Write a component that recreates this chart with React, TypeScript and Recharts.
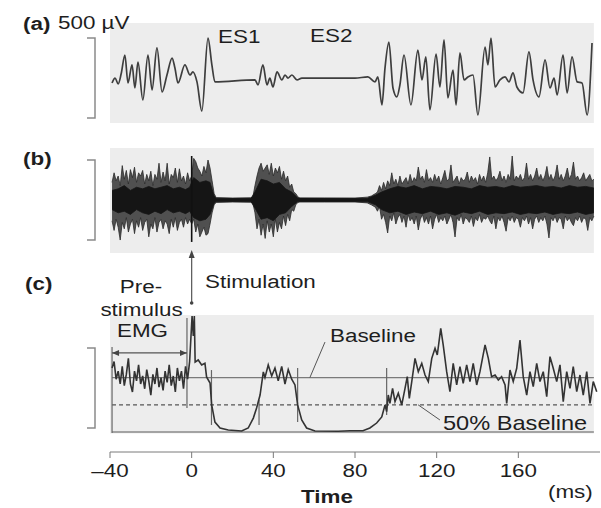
import React from 'react'
import { LineChart, Line, ComposedChart, Area, XAxis, YAxis, ReferenceArea, ReferenceLine } from 'recharts'

const FONT = '"Liberation Sans", Arial, sans-serif'
const INK = '#1e1e1e'
const BG = '#ededed'
const STRETCH = 1.18

// time axis, ms
const T_DOMAIN: [number, number] = [-40, 200]
const T_TICKS = [-40, 0, 40, 80, 120, 160]
const BG_END = 197

// (a) one raw sweep  [ms, µV]
const sweepA: [number, number][] = [
  [-39, -19], [-37.5, 12], [-36, -25], [-34.5, 40], [-32.7, 156], [-31.2, -19], [-29.2, 94], [-27.8, -50],
  [-26.3, 112], [-23.9, -125], [-21.4, 156], [-19.4, -62], [-17, 200], [-14.5, -75], [-12.1, 31], [-9.6, 137],
  [-8.2, 75], [-6.7, -19], [-3.3, 94], [-0.8, 31], [0.6, 50], [2.6, -12], [5, -194], [8, 262], [9.9, 94],
  [11.4, -12], [31, 0], [32.5, -31], [34.9, 94], [36.9, -31], [38.3, 12], [39.8, -44], [41.8, 50], [44.2, 0],
  [45.7, 31], [47.2, 12], [49.1, 31], [51.6, 0], [54, 12], [80, 12], [86.3, 19], [89.8, -12], [91.2, 19],
  [93.2, -156], [94.7, 75], [96.6, 237], [98.6, -50], [100.5, -106], [102, -31], [104, 156], [107.4, -156],
  [110.8, 187], [112.8, 0], [114.7, 144], [116.7, -187], [119.7, 162], [121.6, -44], [123.6, 250], [125.5, -112],
  [128, 62], [129.5, -156], [131.4, 169], [133.4, 0], [135.3, 19], [137.8, 31], [140.2, -219], [143.7, 206],
  [145.1, 94], [146.6, 262], [148.6, -44], [151, 0], [153.5, 19], [155.4, -12], [157.4, 44], [159.3, -44],
  [162.3, -81], [165.2, 175], [167.2, 0], [170.1, -106], [173.1, 125], [175.5, -50], [177.5, 12], [179, -94],
  [181.9, 156], [183.9, -81], [186.3, 144], [188.8, -12], [191.2, -19], [193.7, -219], [196.1, 231],
]

// (b) superimposed sweeps, envelope  [ms, low µV, high µV]
const envelopeB: [number, number, number][] = [
  [-39, -130, 110], [-38, -190, 170], [-37, -120, 120], [-36, -170, 150], [-35, -250, 90],
  [-34, -140, 215], [-33, -180, 130], [-32, -110, 185], [-31, -200, 100], [-30, -150, 190],
  [-29, -120, 140], [-28, -210, 205], [-27, -130, 110], [-26, -170, 170], [-25, -110, 150],
  [-24, -190, 185], [-23, -140, 100], [-22, -120, 160], [-21, -230, 120], [-20, -150, 180],
  [-19, -180, 90], [-18, -110, 160], [-17, -200, 130], [-16, -140, 230], [-15, -120, 110],
  [-14, -180, 175], [-13, -130, 120], [-12, -150, 230], [-11, -210, 100], [-10, -120, 160],
  [-9, -170, 140], [-8, -110, 200], [-7, -190, 110], [-6, -140, 195], [-5, -120, 120],
  [-4, -170, 150], [-3, -110, 100], [-2, -150, 170], [-1, -120, 120],
  [0, -150, 150], [1, -120, 260], [2, -200, 240], [3, -150, 200], [4, -230, 180], [5, -200, 150],
  [6, -170, 210], [7, -220, 170], [8, -210, 250], [9, -150, 200], [10, -80, 120], [11, -30, 40],
  [12, -15, 15], [20, -12, 12], [29, -14, 14],
  [30, -20, 20], [31, -80, 90], [32, -180, 150], [33, -120, 200], [34, -220, 230], [35, -150, 180],
  [36, -240, 200], [37, -130, 220], [38, -200, 160], [39, -150, 230], [40, -230, 150], [41, -120, 200],
  [42, -200, 170], [43, -140, 210], [44, -180, 130], [45, -100, 180], [46, -160, 120], [47, -90, 150],
  [48, -130, 80], [49, -60, 100], [50, -70, 50], [51, -30, 40], [52, -15, 20], [53, -12, 12],
  [65, -12, 12], [80, -12, 12], [86, -18, 18], [88, -30, 25], [90, -45, 40], [91, -70, 50], [92, -40, 90],
  [93, -120, 60], [94, -90, 110], [95, -140, 70], [96, -206, 120], [97, -100, 90], [98, -130, 170],
  [99, -80, 100], [100, -150, 130], [101, -110, 90], [102, -90, 150], [103, -140, 100], [104, -100, 120],
  [105, -170, 140], [106, -90, 100], [107, -130, 160], [108, -110, 110], [109, -150, 140], [110, -100, 120],
  [111, -187, 206], [112, -120, 130], [113, -90, 150], [114, -140, 110], [115, -110, 190], [116, -150, 120],
  [117, -100, 140], [118, -180, 110], [119, -120, 160], [120, -90, 120], [121, -140, 150], [122, -110, 100],
  [123, -130, 140], [124, -100, 185], [125, -150, 120], [126, -120, 130], [127, -90, 219], [128, -140, 110],
  [129, -231, 130], [130, -110, 150], [131, -130, 100], [132, -90, 140], [133, -150, 120], [134, -110, 130],
  [135, -120, 175], [136, -140, 110], [137, -100, 150], [138, -165, 120], [139, -110, 140], [140, -130, 100],
  [141, -90, 160], [142, -140, 120], [143, -110, 150], [144, -120, 110], [145, -100, 170], [146, -130, 269],
  [147, -150, 130], [148, -100, 150], [149, -180, 120], [150, -110, 140], [151, -130, 180], [152, -100, 120],
  [153, -140, 150], [154, -195, 110], [155, -110, 160], [156, -130, 130], [157, -100, 275], [158, -140, 120],
  [159, -110, 150], [160, -120, 130], [161, -170, 160], [162, -110, 120], [163, -130, 140], [164, -100, 231],
  [165, -150, 130], [166, -110, 160], [167, -180, 120], [168, -120, 150], [169, -100, 200], [170, -140, 130],
  [171, -110, 160], [172, -130, 120], [173, -100, 150], [174, -150, 210], [175, -237, 130], [176, -110, 160],
  [177, -130, 120], [178, -100, 150], [179, -140, 219], [180, -110, 130], [181, -120, 160], [182, -180, 120],
  [183, -100, 150], [184, -130, 200], [185, -110, 130], [186, -140, 160], [187, -160, 237], [188, -110, 130],
  [189, -130, 150], [190, -100, 120], [191, -140, 140], [192, -110, 170], [193, -120, 120], [194, -190, 140],
  [195, -110, 160], [196, -130, 120], [197, -100, 130],
]

// (b) dense core of the superimposed sweeps  [ms, low, high]
const coreB: [number, number, number][] = [
  [-39, -60, 60], [-36, -80, 70], [-33, -70, 90], [-30, -90, 60], [-27, -60, 80], [-24, -80, 70], [-21, -90, 85],
  [-18, -70, 70], [-15, -85, 80], [-12, -60, 90], [-9, -80, 70], [-6, -70, 80], [-3, -85, 65], [-1, -70, 80],
  [1, -110, 140], [4, -130, 110], [7, -120, 120], [9, -90, 110], [11, -20, 25], [12, -10, 10], [29, -10, 10],
  [31, -50, 50], [34, -120, 130], [37, -110, 120], [40, -130, 100], [43, -90, 110], [46, -80, 70], [49, -40, 50],
  [52, -10, 12], [86, -10, 10], [90, -30, 30], [93, -60, 50], [97, -80, 70], [101, -70, 85], [105, -90, 75],
  [109, -75, 90], [113, -85, 70], [117, -70, 85], [121, -90, 80], [125, -80, 70], [129, -95, 85], [133, -75, 80],
  [137, -85, 70], [141, -70, 90], [145, -90, 80], [149, -80, 85], [153, -85, 75], [157, -75, 90], [161, -90, 80],
  [165, -80, 85], [169, -85, 90], [173, -75, 80], [177, -90, 85], [181, -80, 75], [185, -85, 90], [189, -75, 80],
  [193, -90, 85], [197, -80, 75],
]

// (c) rectified, averaged EMG  [ms, µV]
const rectC: [number, number][] = [
  [-39, 400], [-38, 440], [-37, 330], [-36, 380], [-35, 300], [-34, 410], [-33, 290], [-32, 360], [-31, 460],
  [-30, 300], [-29, 250], [-28, 380], [-27, 320], [-26, 420], [-25, 300], [-24, 350], [-23, 270], [-22, 390],
  [-21, 320], [-20, 230], [-19, 360], [-18, 300], [-17, 400], [-16, 280], [-15, 340], [-14, 260], [-13, 380],
  [-12, 310], [-11, 420], [-10, 290], [-9, 350], [-8, 250], [-7, 400], [-6, 320], [-5, 380], [-4, 270],
  [-3, 410], [-2, 330], [-1, 440],
  [0.2, 725], [0.8, 600], [1.3, 725], [1.7, 437], [3.2, 450], [4.9, 419], [6.5, 430], [7.3, 344], [9, 306],
  [9.8, 169], [11.4, 62], [13.9, 25], [17.9, 12], [24.5, 6], [27.7, 25], [30.2, 87], [31.8, 150], [33.5, 231],
  [35.1, 375], [35.9, 340], [37.5, 419], [39.2, 350], [40.8, 400], [42.4, 320], [44.1, 410], [45.7, 300],
  [47.3, 390], [49, 330], [50.6, 294], [51.9, 169], [53.9, 75], [56.3, 25], [60.4, 6], [71.8, 5], [77.5, 8],
  [83.9, 8], [87.3, 25], [90.6, 56], [93.1, 94], [94.7, 169], [95.5, 127], [96.3, 231], [97.1, 179], [98.4, 273],
  [99.6, 190], [101.2, 242], [102.9, 169], [104.5, 273], [105.6, 346], [106.6, 210], [107.8, 315], [109.4, 460],
  [111, 377], [112.7, 429], [114.3, 356], [115.9, 315], [117.6, 460], [119.2, 523], [120.3, 481], [122, 648],
  [123.2, 544], [124.9, 377], [126.5, 252], [128.1, 429], [129.8, 294], [131.4, 408], [133, 304], [134.7, 419],
  [136.3, 315], [137.9, 429], [139.6, 294], [141.2, 377], [143.7, 544], [145.3, 460], [146.9, 346], [148.6, 356],
  [150.2, 325], [151.8, 346], [153.5, 294], [154.3, 179], [155.9, 387], [157.5, 315], [159.2, 398], [160.8, 575],
  [162.4, 346], [164.1, 231], [165.7, 377], [167.3, 283], [169, 429], [170.6, 315], [172.2, 377], [173.9, 221],
  [175.5, 471], [177.1, 398], [178.8, 315], [180.4, 419], [182, 190], [183.7, 377], [185.3, 273], [186.9, 408],
  [188.6, 252], [190.2, 356], [191.8, 231], [193.5, 377], [195.1, 179], [196.7, 315], [198.4, 252],
]

const BASELINE = 340
const HALF_BASELINE = 170
// pre-stimulus window [ms start, ms end]
const PRE_WINDOW: [number, number] = [-39, -2.3]
// onset / offset markers  [ms, from µV, to µV]
const markersC: [number, number, number][] = [
  [9.7, 387, 44], [33, 200, 44], [51.9, 400, 62], [95.5, 400, 106],
]

// layout
const W = 601
const LEFT = 110
const RIGHT = 1
const PLOT_W = W - LEFT - RIGHT
const AXIS_H = 56
const panelA = { top: 23, h: 100, dom: [-269, 356] as [number, number] }
const panelB = { top: 148, h: 105, dom: [-331, 325] as [number, number] }
const panelC = { top: 315, h: 137, dom: [-125, 731] as [number, number] }

const xPx = (t: number) => LEFT + ((t - T_DOMAIN[0]) / (T_DOMAIN[1] - T_DOMAIN[0])) * PLOT_W
const yPx = (p: typeof panelA, v: number) => p.top + ((p.dom[1] - v) / (p.dom[1] - p.dom[0])) * p.h

const fmtTick = (v: number) => (v < 0 ? `\u2013${Math.abs(v)}` : `${v}`)

const Tick = ({ x, y, payload }: any) => (
  <g transform={`translate(${x},${y})`}>
    <text transform={`scale(${STRETCH},1)`} textAnchor="middle" dy={17} fontSize={19} fill={INK}>
      {fmtTick(payload.value)}
    </text>
  </g>
)

const Txt = ({ x, y, children, bold, size = 19, anchor = 'start' }: any) => (
  <text
    transform={`translate(${x},${y}) scale(${STRETCH},1)`}
    fontSize={size}
    fontWeight={bold ? 700 : 400}
    textAnchor={anchor}
    fill={INK}
  >
    {children}
  </text>
)

const DoubleArrow = (p: any) => {
  const { x1, y1, x2, y2 } = p
  return (
    <g>
      <line x1={x1} y1={y1} x2={x2} y2={y2} stroke="#555" strokeWidth={1.2} />
      <path d={`M${x1},${y1} l7,-3 v6 z`} fill="#444" />
      <path d={`M${x2},${y2} l-7,-3 v6 z`} fill="#444" />
    </g>
  )
}

const ScaleBar = ({ p, from, to }: any) => {
  const y1 = yPx(p, from)
  const y2 = yPx(p, to)
  return <path d={`M87,${y1} H95 V${y2} H87`} fill="none" stroke="#8a8a8a" strokeWidth={1.5} />
}

export default function App() {
  const dataA = sweepA.map(([t, v]) => ({ t, v }))
  const dataB = envelopeB.map(([t, lo, hi]) => ({ t, range: [lo, hi] }))
  const dataCore = coreB.map(([t, lo, hi]) => ({ t, core: [lo, hi] }))
  const dataC = rectC.map(([t, v]) => ({ t, v }))
  const stimX = xPx(0)

  return (
    <div style={{ position: 'absolute', left: 0, top: 0, width: W, height: 508, background: '#fff', fontFamily: FONT, overflow: 'hidden' }}>
      {/* (a) */}
      <div style={{ position: 'absolute', left: 0, top: panelA.top }}>
        <LineChart width={W} height={panelA.h} data={dataA} margin={{ top: 0, right: RIGHT, bottom: 0, left: LEFT }}>
          <XAxis type="number" dataKey="t" domain={T_DOMAIN} hide allowDataOverflow />
          <YAxis type="number" domain={panelA.dom} hide allowDataOverflow />
          <ReferenceArea x1={T_DOMAIN[0]} x2={BG_END} y1={panelA.dom[0]} y2={panelA.dom[1]} fill={BG} fillOpacity={1} stroke="none" />
          <Line type="monotone" dataKey="v" stroke="#3e3e3e" strokeWidth={1.7} dot={false} activeDot={false} isAnimationActive={false} />
        </LineChart>
      </div>

      {/* (b) */}
      <div style={{ position: 'absolute', left: 0, top: panelB.top }}>
        <ComposedChart width={W} height={panelB.h} margin={{ top: 0, right: RIGHT, bottom: 0, left: LEFT }}>
          <XAxis type="number" dataKey="t" domain={T_DOMAIN} hide allowDataOverflow />
          <YAxis type="number" domain={panelB.dom} hide allowDataOverflow />
          <ReferenceArea x1={T_DOMAIN[0]} x2={BG_END} y1={panelB.dom[0]} y2={panelB.dom[1]} fill={BG} fillOpacity={1} stroke="none" />
          <Area data={dataB} type="linear" dataKey="range" stroke="#2a2a2a" strokeWidth={0.8} fill="#505050" fillOpacity={1} dot={false} activeDot={false} isAnimationActive={false} />
          <Area data={dataCore} type="linear" dataKey="core" stroke="#151515" strokeWidth={0.8} fill="#151515" fillOpacity={1} dot={false} activeDot={false} isAnimationActive={false} />
          <ReferenceLine segment={[{ x: 0, y: -262 }, { x: 0, y: 275 }]} stroke="#111" strokeWidth={1.6} />
        </ComposedChart>
      </div>

      {/* (c) */}
      <div style={{ position: 'absolute', left: 0, top: panelC.top }}>
        <LineChart width={W} height={panelC.h + AXIS_H} data={dataC} margin={{ top: 0, right: RIGHT, bottom: 0, left: LEFT }}>
          <XAxis
            type="number"
            dataKey="t"
            domain={T_DOMAIN}
            ticks={T_TICKS}
            allowDataOverflow
            height={AXIS_H}
            tickSize={6}
            tickMargin={2}
            stroke="#7a7a7a"
            tick={<Tick />}
          />
          <YAxis type="number" domain={panelC.dom} hide allowDataOverflow />
          <ReferenceArea x1={T_DOMAIN[0]} x2={BG_END} y1={-10} y2={panelC.dom[1]} fill={BG} fillOpacity={1} stroke="none" />
          <ReferenceLine segment={[{ x: -39, y: 0 }, { x: BG_END, y: 0 }]} stroke="#8a8a8a" strokeWidth={1.5} />
          <ReferenceLine segment={[{ x: -39, y: BASELINE }, { x: BG_END, y: BASELINE }]} stroke="#7a7a7a" strokeWidth={1.2} />
          <ReferenceLine segment={[{ x: -39, y: HALF_BASELINE }, { x: BG_END, y: HALF_BASELINE }]} stroke="#555" strokeWidth={1.2} strokeDasharray="4 3" />
          <ReferenceLine segment={[{ x: PRE_WINDOW[0], y: 531 }, { x: PRE_WINDOW[0], y: -6 }]} stroke="#666" strokeWidth={1.2} />
          <ReferenceLine segment={[{ x: PRE_WINDOW[1], y: 712 }, { x: PRE_WINDOW[1], y: 150 }]} stroke="#666" strokeWidth={1.2} />
          <ReferenceLine segment={[{ x: PRE_WINDOW[0], y: 494 }, { x: PRE_WINDOW[1], y: 494 }]} shape={DoubleArrow} />
          {markersC.map(([t, a, b]) => (
            <ReferenceLine key={t} segment={[{ x: t, y: a }, { x: t, y: b }]} stroke="#666" strokeWidth={1.2} />
          ))}
          <ReferenceLine segment={[{ x: 57.9, y: BASELINE }, { x: 65.3, y: 562 }]} stroke="#555" strokeWidth={1} />
          <ReferenceLine segment={[{ x: 110.9, y: HALF_BASELINE }, { x: 121.6, y: 75 }]} stroke="#555" strokeWidth={1} />
          <Line type="linear" dataKey="v" stroke="#333" strokeWidth={1.6} dot={false} activeDot={false} isAnimationActive={false} />
        </LineChart>
      </div>

      {/* labels, scale bars, stimulus arrow */}
      <svg width={W} height={508} style={{ position: 'absolute', left: 0, top: 0, pointerEvents: 'none', fontFamily: FONT }}>
        <ScaleBar p={panelA} from={262} to={-238} />
        <ScaleBar p={panelB} from={250} to={-250} />
        <ScaleBar p={panelC} from={525} to={25} />

        <line x1={stimX} y1={257} x2={stimX} y2={303} stroke="#555" strokeWidth={1.2} />
        <path d={`M${stimX},${250} l-3,8 h6 z`} fill="#444" />
        <circle cx={stimX} cy={303} r={1.8} fill="#444" />

        <Txt x={23} y={30} bold>(a)</Txt>
        <Txt x={58} y={29}>500 µV</Txt>
        <Txt x={218} y={43}>ES1</Txt>
        <Txt x={310} y={42}>ES2</Txt>
        <Txt x={23} y={165} bold>(b)</Txt>
        <Txt x={25} y={290} bold>(c)</Txt>
        <Txt x={141} y={293} anchor="middle">Pre-</Txt>
        <Txt x={141.5} y={316} anchor="middle">stimulus</Txt>
        <Txt x={142.5} y={337} anchor="middle">EMG</Txt>
        <Txt x={205} y={288}>Stimulation</Txt>
        <Txt x={330} y={342}>Baseline</Txt>
        <Txt x={443} y={430} size={20}>50% Baseline</Txt>
        <Txt x={327} y={503} bold anchor="middle">Time</Txt>
        <Txt x={548} y={498}>(ms)</Txt>
      </svg>
    </div>
  )
}
